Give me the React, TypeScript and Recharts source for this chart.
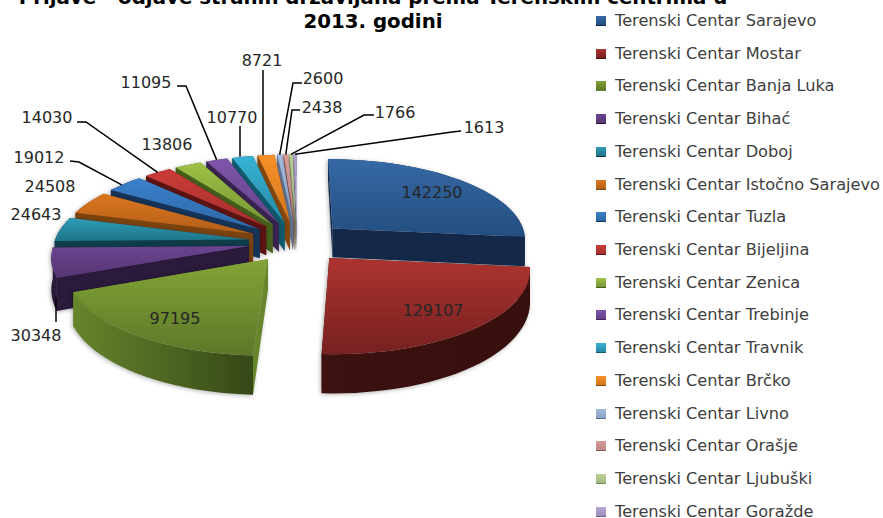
import { PieChart, Pie, Legend } from 'recharts'

const centers = [
  'Sarajevo', 'Mostar', 'Banja Luka', 'Bihać', 'Doboj', 'Istočno Sarajevo', 'Tuzla', 'Bijeljina',
  'Zenica', 'Trebinje', 'Travnik', 'Brčko', 'Livno', 'Orašje', 'Ljubuški', 'Goražde',
].map((c) => `Terenski Centar ${c}`)
const values = [142250, 129107, 97195, 30348, 24643, 24508, 19012, 14030, 13806, 11095, 10770, 8721, 2600, 2438, 1766, 1613]

const topLight = ['#3569a6', '#ad3430', '#82a436', '#6a4490', '#2f9db8', '#dc771f', '#3b80cc', '#cc3c38', '#9dc245', '#7f56aa', '#37b3d5', '#fa9029', '#a3b9dc', '#d89c9a', '#bcd296', '#b6a7d2']
const topDark = ['#234e80', '#762020', '#5d7829', '#563673', '#1e7488', '#b25e18', '#2d68a6', '#a32f2c', '#769536', '#63428a', '#278aa6', '#d3761c', '#8ca3c6', '#c08886', '#a3b87f', '#9c8dba']
const sideLight = ['#14294a', '#3d1210', '#66852c', '#2a1a3c', '#0f3d4a', '#7a4310', '#163358', '#5c1412', '#465f1c', '#38244f', '#105a6c', '#85480e', '#5f7391', '#8a5c5b', '#76885b', '#6f6188']
const sideDark = ['#14294a', '#370f0d', '#364817', '#2a1a3c', '#0f3d4a', '#7a4310', '#163358', '#5c1412', '#465f1c', '#38244f', '#105a6c', '#85480e', '#5f7391', '#8a5c5b', '#76885b', '#6f6188']

const titleLines = ['Prijave - odjave stranih državljana prema Terenskim centrima u', '2013. godini']

const rows = centers.map((name, i) => ({ name, value: values[i] }))
const backToFront = [...rows].reverse()

// the chart is a tilted, exploded pie, so sector angles get projected by hand
const CX = 297
const CY = 242
const RADIUS = 194.5
const Y_RATIO = 0.4244
const PERSPECTIVE = 0.12
const EXPLODE = 0.25
const DEPTH = 30

const project = (u: number, v: number) => {
  const s = 1 - PERSPECTIVE * v
  return { x: CX + RADIUS * u * s, y: CY - RADIUS * Y_RATIO * v * s, d: DEPTH * s * s }
}

const rad = (angle: number) => ((90 - angle) * Math.PI) / 180

const arcPoints = (startAngle: number, endAngle: number) => {
  const mid = rad((startAngle + endAngle) / 2)
  const ox = EXPLODE * Math.sin(mid)
  const oy = EXPLODE * Math.cos(mid)
  const apex = project(ox, oy)
  const arc = []
  const steps = Math.max(4, Math.ceil(Math.abs(endAngle - startAngle) / 3))
  for (let k = 0; k <= steps; k++) {
    const t = rad(startAngle + ((endAngle - startAngle) * k) / steps)
    arc.push(project(ox + Math.sin(t), oy + Math.cos(t)))
  }
  return { apex, arc }
}

type P = { x: number; y: number; d: number }
const toPath = (pts: { x: number; y: number }[]) =>
  'M' + pts.map((p) => `${p.x.toFixed(1)},${p.y.toFixed(1)}`).join('L') + 'Z'
const drop = (p: P) => ({ x: p.x, y: p.y + p.d })

const renderSlice = (only: 'first' | 'rest') => (props: any) => {
  const name = props.payload?.name ?? props.name
  const i = centers.indexOf(name)
  if ((only === 'first') !== (i === 0)) return <g />
  const { apex, arc } = arcPoints(props.startAngle, props.endAngle)
  const first = arc[0]
  const last = arc[arc.length - 1]
  return (
    <g style={{ filter: 'drop-shadow(-1px 1px 2px rgba(0,0,0,0.3))' }}>
      <path d={toPath([apex, first, drop(first), drop(apex)])} fill={sideLight[i]} />
      <path d={toPath([apex, last, drop(last), drop(apex)])} fill={sideLight[i]} />
      <path d={toPath([...arc, ...[...arc].reverse().map(drop)])} fill={`url(#side-${i})`} />
      <path d={toPath([apex, ...arc])} fill={`url(#top-${i})`} />
    </g>
  )
}

// text centre and optional leader elbow for each value label
const labelLayout: { x: number; y: number; elbow?: number[][]; under?: boolean }[] = [
  { x: 432, y: 192 },
  { x: 433, y: 310 },
  { x: 175, y: 318 },
  { x: 36, y: 335, elbow: [[56, 322]], under: true },
  { x: 36, y: 214 },
  { x: 50, y: 186 },
  { x: 39, y: 157, elbow: [[70, 161], [79, 162]] },
  { x: 47, y: 117, elbow: [[77, 122], [86, 122]] },
  { x: 167, y: 144 },
  { x: 146, y: 82, elbow: [[177, 86], [186, 86]] },
  { x: 232, y: 117, elbow: [[240, 126]] },
  { x: 262, y: 60, elbow: [[263, 70]] },
  { x: 323, y: 78, elbow: [[302, 83], [293, 83]] },
  { x: 322, y: 107, elbow: [[300, 110], [292, 110]] },
  { x: 395, y: 112, elbow: [[374, 115], [364, 115]] },
  { x: 484, y: 127, elbow: [[461, 131], [452, 132]] },
]

const renderLabel = (props: any) => {
  const name = props.payload?.name ?? props.name
  const i = centers.indexOf(name)
  const pos = labelLayout[i]
  let leader = null
  if (pos.elbow) {
    const sweep = props.percent * 360
    const mid = props.midAngle
    const { arc } = arcPoints(mid - sweep / 2, mid + sweep / 2)
    const tip = arc[Math.floor(arc.length / 2)]
    const end = pos.under ? drop(tip) : tip
    const pts = [...pos.elbow, [pos.elbow.length === 1 ? pos.elbow[0][0] : end.x, end.y]]
    leader = <polyline points={pts.map((p) => p.join(',')).join(' ')} fill="none" stroke="#000" strokeWidth={1.5} />
  }
  return (
    <g>
      {leader}
      <text x={pos.x} y={pos.y} textAnchor="middle" dominantBaseline="central" fontFamily="DejaVu Sans" fontSize={16} fill="#262626">
        {values[i]}
      </text>
    </g>
  )
}

const LegendList = () => (
  <div>
    {centers.map((name, i) => (
      <div key={name} style={{ height: 12, marginBottom: i < centers.length - 1 ? 20.73 : 0, display: 'flex', alignItems: 'center', fontFamily: 'DejaVu Sans', fontSize: 16.2, lineHeight: '12px', color: '#404040', whiteSpace: 'nowrap' }}>
        <span
          style={{
            width: 10,
            height: 10,
            marginRight: 9,
            flexShrink: 0,
            background: `linear-gradient(${topLight[i]}, ${topDark[i]})`,
            borderBottom: `1px solid ${sideLight[i]}`,
            boxSizing: 'border-box',
          }}
        />
        {name}
      </div>
    ))}
  </div>
)

export default function App() {
  return (
    <div style={{ position: 'absolute', left: 0, top: 0, width: 883, height: 518, overflow: 'hidden' }}>
      <PieChart width={883} height={518} margin={{ top: 0, right: 0, bottom: 0, left: 0 }}>
        <defs>
          {centers.map((_, i) => (
            <linearGradient key={`t${i}`} id={`top-${i}`} x1="0" y1="0" x2="0" y2="1">
              <stop offset="0%" stopColor={topLight[i]} />
              <stop offset="100%" stopColor={topDark[i]} />
            </linearGradient>
          ))}
          {centers.map((_, i) => (
            <linearGradient key={`s${i}`} id={`side-${i}`} x1="0" y1="0" x2="1" y2="0">
              <stop offset="0%" stopColor={sideLight[i]} />
              <stop offset="100%" stopColor={sideDark[i]} />
            </linearGradient>
          ))}
        </defs>
        <text x={373} y={4} textAnchor="middle" fontFamily="DejaVu Sans" fontWeight="bold" fontSize={19.8} fill="#000">
          {titleLines[0]}
        </text>
        <text x={373} y={28} textAnchor="middle" fontFamily="DejaVu Sans" fontWeight="bold" fontSize={19.8} fill="#000">
          {titleLines[1]}
        </text>
        <Pie
          data={backToFront}
          dataKey="value"
          nameKey="name"
          cx={CX}
          cy={CY}
          outerRadius={RADIUS}
          startAngle={90}
          endAngle={450}
          paddingAngle={0}
          stroke="none"
          isAnimationActive={false}
          label={false}
          labelLine={false}
          shape={renderSlice('first')}
          inactiveShape={renderSlice('first')}
          legendType="none"
        />
        <Pie
          data={backToFront}
          dataKey="value"
          nameKey="name"
          cx={CX}
          cy={CY}
          outerRadius={RADIUS}
          startAngle={90}
          endAngle={450}
          paddingAngle={0}
          stroke="none"
          isAnimationActive={false}
          label={renderLabel}
          labelLine={false}
          shape={renderSlice('rest')}
          inactiveShape={renderSlice('rest')}
          legendType="none"
        />
        <Legend content={<LegendList />} layout="vertical" wrapperStyle={{ left: 596, top: 15, width: 287 }} />
      </PieChart>
    </div>
  )
}
